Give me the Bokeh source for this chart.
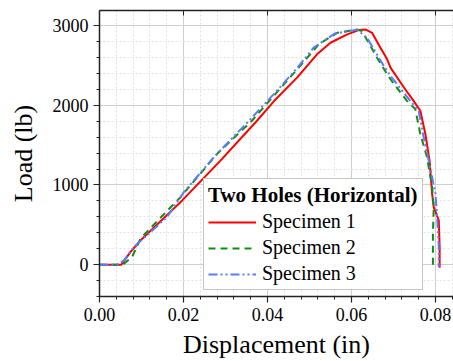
from bokeh.plotting import figure
from bokeh.models import (Range1d, LinearAxis, FixedTicker, PrintfTickFormatter,
                          Legend, LegendItem, CustomJSTickFormatter)
from bokeh.embed import file_html
from bokeh.resources import INLINE

# ---- data ----
s1_x = [0.0, 0.0052, 0.0074, 0.0098, 0.0197, 0.0288, 0.0375, 0.0415, 0.0471, 0.0518,
        0.0550, 0.0590, 0.0617, 0.0633, 0.0649, 0.0669, 0.0685, 0.0693, 0.0725, 0.0748,
        0.0764, 0.0776, 0.0786, 0.0792, 0.0796, 0.0808, 0.0810, 0.0810]
s1_y = [0, 0, 160, 306, 806, 1306, 1806, 2050, 2350, 2640,
        2785, 2890, 2944, 2952, 2910, 2723, 2577, 2473, 2223, 2056,
        1931, 1640, 1306, 890, 723, 556, 223, -40]

s2_x = [0.0, 0.0056, 0.0078, 0.0098, 0.0193, 0.0280, 0.0363, 0.0415, 0.0471, 0.0522,
        0.0566, 0.0613, 0.0625, 0.0641, 0.0661, 0.0685, 0.0693, 0.0732, 0.0752, 0.0764,
        0.0780, 0.0792, 0.0796, 0.0794, 0.0794]
s2_y = [0, 0, 100, 331, 848, 1390, 1806, 2119, 2452, 2765,
        2910, 2952, 2931, 2785, 2598, 2390, 2327, 2056, 1952, 1640,
        1348, 973, 723, 390, -30]

s3_x = [0.0, 0.0042, 0.0058, 0.0082, 0.0161, 0.0201, 0.0272, 0.0356, 0.0415, 0.0471,
        0.0510, 0.0560, 0.0613, 0.0637, 0.0677, 0.0693, 0.0740, 0.0760, 0.0772, 0.0784,
        0.0800, 0.0804, 0.0808, 0.0808]
s3_y = [0, 0, 50, 222, 598, 910, 1348, 1806, 2140, 2470,
        2723, 2900, 2950, 2848, 2494, 2369, 2056, 1931, 1598, 1306,
        890, 598, 223, -30]

series_names = ["Specimen 1", "Specimen 2", "Specimen 3"]
legend_title = "Two Holes (Horizontal)"
x_title = "Displacement (in)"
y_title = "Load (lb)"
x_major = [0.0, 0.02, 0.04, 0.06, 0.08]
y_major = [0, 1000, 2000, 3000]

SERIF = "'Liberation Serif', 'Times New Roman', serif"

p = figure(width=453, height=361, output_backend="svg", toolbar_location=None,
           x_range=Range1d(0, 0.0843), y_range=Range1d(-400, 3190),
           min_border_left=99, min_border_right=0, min_border_top=10,
           min_border_bottom=64, x_axis_label=x_title, y_axis_label=y_title)
p.outline_line_color = None
p.background_fill_color = "white"
p.border_fill_color = "white"

x_minor = [round(i * 0.004, 4) for i in range(0, 22)]
y_minor = list(range(-400, 3200, 200))
xt = FixedTicker(ticks=x_major, minor_ticks=x_minor)
yt = FixedTicker(ticks=y_major, minor_ticks=y_minor)

for ax in p.xaxis + p.yaxis:
    ax.axis_line_color = "#222222"
    ax.axis_line_width = 1.5
    ax.major_tick_line_color = "#222222"
    ax.minor_tick_line_color = "#222222"
    ax.major_tick_line_width = 1.2
    ax.major_tick_out = 6
    ax.major_tick_in = 0
    ax.minor_tick_out = 3
    ax.minor_tick_in = 0
    ax.major_label_text_font = SERIF
    ax.major_label_text_font_size = "18px"
    ax.major_label_text_color = "black"
    ax.axis_label_text_font = SERIF
    ax.axis_label_text_font_size = "26px"
    ax.axis_label_text_font_style = "normal"
    ax.axis_label_text_color = "black"

p.xaxis.ticker = xt
p.yaxis.ticker = yt
p.xaxis.formatter = PrintfTickFormatter(format="%.2f")
p.yaxis.formatter = PrintfTickFormatter(format="%d")
p.xaxis.major_label_standoff = 5
p.yaxis.major_label_standoff = 5
p.xaxis.axis_label_standoff = 6
p.yaxis.axis_label_standoff = 12

top = LinearAxis(ticker=xt, formatter=CustomJSTickFormatter(code="return ''"),
                 major_label_standoff=0, major_label_text_font_size="10px",
                 axis_line_color="#222222", axis_line_width=1.5,
                 major_tick_in=5, major_tick_out=0, minor_tick_in=0, minor_tick_out=0,
                 major_tick_line_color="#222222")
p.add_layout(top, "above")

p.xgrid.ticker = xt
p.ygrid.ticker = yt
for g in (p.xgrid[0], p.ygrid[0]):
    g.grid_line_color = "#cfcfcf"
    g.grid_line_width = 1
    g.minor_grid_line_color = "#e2e2e2"
    g.minor_grid_line_dash = "2 2"

r1 = p.line(s1_x, s1_y, line_color="#ff0000", line_width=2)
r2 = p.line(s2_x, s2_y, line_color="#0f8f0f", line_width=2, line_dash="7 5")
r3 = p.line(s3_x, s3_y, line_color="#5a7bff", line_width=2, line_dash="9 3 2 3 2 3")

legend = Legend(items=[LegendItem(label=series_names[0], renderers=[r1]),
                       LegendItem(label=series_names[1], renderers=[r2]),
                       LegendItem(label=series_names[2], renderers=[r3])],
                location=(104, 6), title=legend_title,
                title_text_font=SERIF, title_text_font_style="bold",
                title_text_font_size="21px", title_standoff=2, title_text_color="black",
                label_text_font=SERIF, label_text_font_size="20px",
                label_text_color="black",
                glyph_width=48, glyph_height=20, label_height=20, label_standoff=6,
                spacing=3, padding=4, margin=0,
                border_line_color="#8c8c8c", border_line_width=1,
                background_fill_color="white", background_fill_alpha=1)
p.add_layout(legend, "center")

open("out.html", "w").write(file_html(p, INLINE))
